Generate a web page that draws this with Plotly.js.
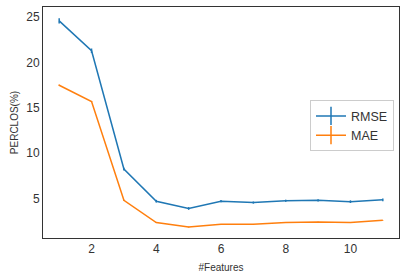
<!DOCTYPE html>
<html><head><meta charset="utf-8">
<script src="https://cdn.plot.ly/plotly-3.0.1.min.js"></script>
<style>html,body{margin:0;padding:0;background:#fff}#chart{width:407px;height:280px}</style>
</head><body><div id="chart"></div>
<script>
const features = [1,2,3,4,5,6,7,8,9,10,11];
const rmse = [24.6,21.3,8.25,4.7,3.9,4.7,4.55,4.75,4.8,4.65,4.85];
const rmseErr = [0.3,0.25,0.15,0.15,0.15,0.12,0.12,0.12,0.12,0.15,0.15];
const mae = [17.5,15.7,4.8,2.35,1.85,2.15,2.15,2.35,2.4,2.35,2.6];
const maeErr = [0.08,0.06,0.05,0.05,0.05,0.04,0.04,0.04,0.04,0.04,0.04];
const names = ['RMSE','MAE'];
const colors = ['#1f77b4','#ff7f0e'];
const xTicks = [2,4,6,8,10];
const yTicks = [5,10,15,20,25];

const data = [
  {x: features, y: rmse, mode:'lines', line:{color:colors[0], width:1.5}, showlegend:false,
   error_y:{type:'data', array:rmseErr, visible:true, color:colors[0], thickness:1.5, width:0}},
  {x: features, y: mae, mode:'lines', line:{color:colors[1], width:1.5}, showlegend:false,
   error_y:{type:'data', array:maeErr, visible:true, color:colors[1], thickness:1.5, width:0}},
  {x:[null], y:[null], name:names[0], mode:'lines+markers', line:{color:colors[0], width:1.5},
   marker:{symbol:'line-ns-open', size:13, color:colors[0], line:{color:colors[0], width:1.5}}},
  {x:[null], y:[null], name:names[1], mode:'lines+markers', line:{color:colors[1], width:1.5},
   marker:{symbol:'line-ns-open', size:13, color:colors[1], line:{color:colors[1], width:1.5}}}
];
const layout = {
  width:407, height:280,
  margin:{l:43, r:8, t:7, b:42},
  paper_bgcolor:'#fff', plot_bgcolor:'#fff',
  font:{family:'Liberation Sans, Arial, sans-serif', color:'#333'},
  xaxis:{range:[0.5,11.5], tickvals:xTicks, ticks:'', showgrid:false, zeroline:false,
    showline:true, mirror:true, linecolor:'#333', linewidth:1,
    tickfont:{size:12, color:'#333'},
    title:{text:'#Features', font:{size:10, color:'#333'}, standoff:8}},
  yaxis:{range:[0.64,26.13], tickvals:yTicks, ticks:'', showgrid:false, zeroline:false,
    showline:true, mirror:true, linecolor:'#333', linewidth:1,
    tickfont:{size:12, color:'#333'},
    title:{text:'PERCLOS(%)', font:{size:10, color:'#333'}, standoff:5}},
  legend:{x:0.75, y:0.596, xanchor:'left', yanchor:'top', bgcolor:'#fff',
    bordercolor:'#ccc', borderwidth:1, font:{size:12.5, color:'#333'}, tracegroupgap:0}
};
Plotly.newPlot('chart', data, layout, {displayModeBar:false, staticPlot:true});
</script></body></html>
